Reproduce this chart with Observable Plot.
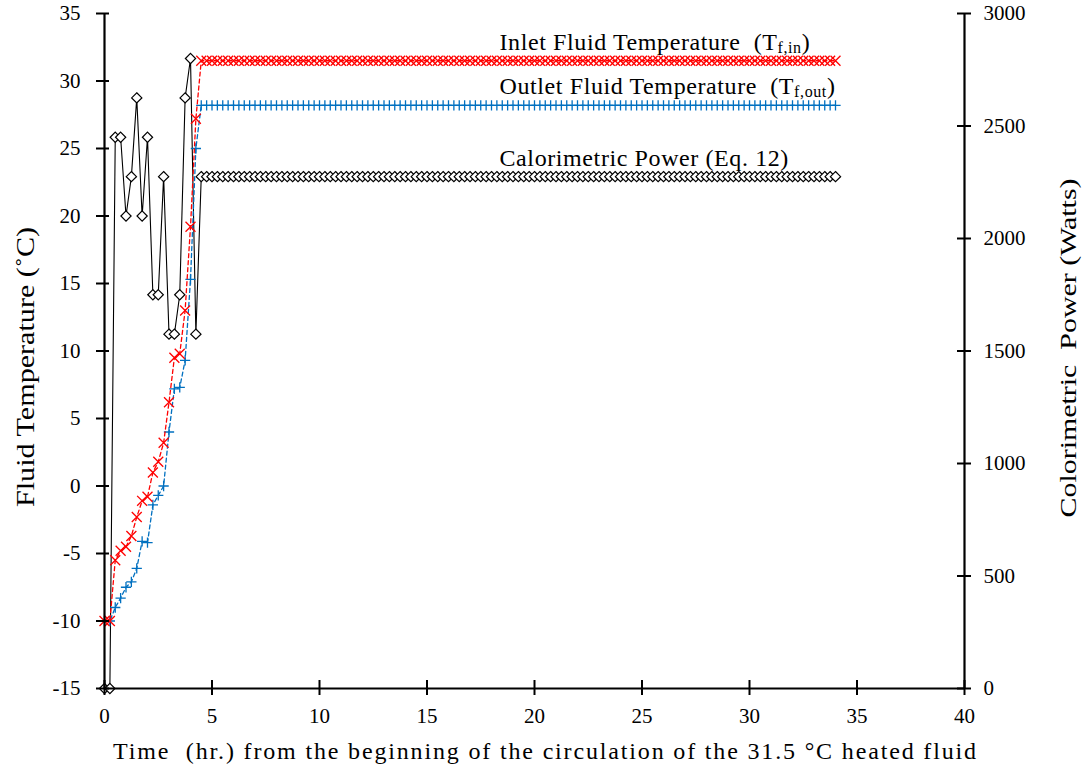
<!DOCTYPE html>
<html>
<head>
<meta charset="utf-8">
<script src="https://cdn.jsdelivr.net/npm/d3@7"></script>
<script src="https://cdn.jsdelivr.net/npm/@observablehq/plot@0.6"></script>
<style>
  html, body { margin: 0; padding: 0; background: #fff; }
  #chart svg { display: block; }
</style>
</head>
<body>
<div id="chart"></div>
<script>
// ---- Data ----
const timeHr = [
  0, 0.25, 0.5, 0.75,
  1, 1.25, 1.5, 1.75,
  2, 2.25, 2.5, 2.75,
  3, 3.25, 3.5, 3.75,
  4, 4.25, 4.5, 4.75,
  5, 5.25, 5.5, 5.75,
  6, 6.25, 6.5, 6.75,
  7, 7.25, 7.5, 7.75,
  8, 8.25, 8.5, 8.75,
  9, 9.25, 9.5, 9.75,
  10, 10.25, 10.5, 10.75,
  11, 11.25, 11.5, 11.75,
  12, 12.25, 12.5, 12.75,
  13, 13.25, 13.5, 13.75,
  14, 14.25, 14.5, 14.75,
  15, 15.25, 15.5, 15.75,
  16, 16.25, 16.5, 16.75,
  17, 17.25, 17.5, 17.75,
  18, 18.25, 18.5, 18.75,
  19, 19.25, 19.5, 19.75,
  20, 20.25, 20.5, 20.75,
  21, 21.25, 21.5, 21.75,
  22, 22.25, 22.5, 22.75,
  23, 23.25, 23.5, 23.75,
  24, 24.25, 24.5, 24.75,
  25, 25.25, 25.5, 25.75,
  26, 26.25, 26.5, 26.75,
  27, 27.25, 27.5, 27.75,
  28, 28.25, 28.5, 28.75,
  29, 29.25, 29.5, 29.75,
  30, 30.25, 30.5, 30.75,
  31, 31.25, 31.5, 31.75,
  32, 32.25, 32.5, 32.75,
  33, 33.25, 33.5, 33.75,
  34
];

const inletTemp = [
  -10, -10, -5.5, -4.8,
  -4.5, -3.7, -2.3, -1.1,
  -0.8, 1.0, 1.8, 3.2,
  6.2, 9.5, 9.8, 13.0,
  19.2, 27.2, 31.5, 31.5,
  31.5, 31.5, 31.5, 31.5,
  31.5, 31.5, 31.5, 31.5,
  31.5, 31.5, 31.5, 31.5,
  31.5, 31.5, 31.5, 31.5,
  31.5, 31.5, 31.5, 31.5,
  31.5, 31.5, 31.5, 31.5,
  31.5, 31.5, 31.5, 31.5,
  31.5, 31.5, 31.5, 31.5,
  31.5, 31.5, 31.5, 31.5,
  31.5, 31.5, 31.5, 31.5,
  31.5, 31.5, 31.5, 31.5,
  31.5, 31.5, 31.5, 31.5,
  31.5, 31.5, 31.5, 31.5,
  31.5, 31.5, 31.5, 31.5,
  31.5, 31.5, 31.5, 31.5,
  31.5, 31.5, 31.5, 31.5,
  31.5, 31.5, 31.5, 31.5,
  31.5, 31.5, 31.5, 31.5,
  31.5, 31.5, 31.5, 31.5,
  31.5, 31.5, 31.5, 31.5,
  31.5, 31.5, 31.5, 31.5,
  31.5, 31.5, 31.5, 31.5,
  31.5, 31.5, 31.5, 31.5,
  31.5, 31.5, 31.5, 31.5,
  31.5, 31.5, 31.5, 31.5,
  31.5, 31.5, 31.5, 31.5,
  31.5, 31.5, 31.5, 31.5,
  31.5, 31.5, 31.5, 31.5,
  31.5, 31.5, 31.5, 31.5,
  31.5
];

const outletTemp = [
  -10, -10, -9.0, -8.3,
  -7.5, -7.1, -6.1, -4.1,
  -4.2, -1.4, -0.7, 0.0,
  4.0, 7.2, 7.3, 9.3,
  15.3, 25.0, 28.2, 28.2,
  28.2, 28.2, 28.2, 28.2,
  28.2, 28.2, 28.2, 28.2,
  28.2, 28.2, 28.2, 28.2,
  28.2, 28.2, 28.2, 28.2,
  28.2, 28.2, 28.2, 28.2,
  28.2, 28.2, 28.2, 28.2,
  28.2, 28.2, 28.2, 28.2,
  28.2, 28.2, 28.2, 28.2,
  28.2, 28.2, 28.2, 28.2,
  28.2, 28.2, 28.2, 28.2,
  28.2, 28.2, 28.2, 28.2,
  28.2, 28.2, 28.2, 28.2,
  28.2, 28.2, 28.2, 28.2,
  28.2, 28.2, 28.2, 28.2,
  28.2, 28.2, 28.2, 28.2,
  28.2, 28.2, 28.2, 28.2,
  28.2, 28.2, 28.2, 28.2,
  28.2, 28.2, 28.2, 28.2,
  28.2, 28.2, 28.2, 28.2,
  28.2, 28.2, 28.2, 28.2,
  28.2, 28.2, 28.2, 28.2,
  28.2, 28.2, 28.2, 28.2,
  28.2, 28.2, 28.2, 28.2,
  28.2, 28.2, 28.2, 28.2,
  28.2, 28.2, 28.2, 28.2,
  28.2, 28.2, 28.2, 28.2,
  28.2, 28.2, 28.2, 28.2,
  28.2, 28.2, 28.2, 28.2,
  28.2, 28.2, 28.2, 28.2,
  28.2
];

const powerWatts = [
  0, 0, 2450, 2450,
  2100, 2275, 2625, 2100,
  2450, 1750, 1750, 2275,
  1575, 1575, 1750, 2625,
  2800, 1575, 2275, 2275,
  2275, 2275, 2275, 2275,
  2275, 2275, 2275, 2275,
  2275, 2275, 2275, 2275,
  2275, 2275, 2275, 2275,
  2275, 2275, 2275, 2275,
  2275, 2275, 2275, 2275,
  2275, 2275, 2275, 2275,
  2275, 2275, 2275, 2275,
  2275, 2275, 2275, 2275,
  2275, 2275, 2275, 2275,
  2275, 2275, 2275, 2275,
  2275, 2275, 2275, 2275,
  2275, 2275, 2275, 2275,
  2275, 2275, 2275, 2275,
  2275, 2275, 2275, 2275,
  2275, 2275, 2275, 2275,
  2275, 2275, 2275, 2275,
  2275, 2275, 2275, 2275,
  2275, 2275, 2275, 2275,
  2275, 2275, 2275, 2275,
  2275, 2275, 2275, 2275,
  2275, 2275, 2275, 2275,
  2275, 2275, 2275, 2275,
  2275, 2275, 2275, 2275,
  2275, 2275, 2275, 2275,
  2275, 2275, 2275, 2275,
  2275, 2275, 2275, 2275,
  2275, 2275, 2275, 2275,
  2275, 2275, 2275, 2275,
  2275
];

const xTicks = [0, 5, 10, 15, 20, 25, 30, 35, 40];
const tempTicks = [-15, -10, -5, 0, 5, 10, 15, 20, 25, 30, 35];
const powerTicks = [0, 500, 1000, 1500, 2000, 2500, 3000];

const xTitle = "Time  (hr.) from the beginning of the circulation of the 31.5 °C heated fluid";
const yLeftTitle = "Fluid Temperature (˚C)";
const yRightTitle = "Colorimetric  Power (Watts)";
const seriesLabels = [
  "Inlet Fluid Temperature  (T_{f,in})",
  "Outlet Fluid Temperature  (T_{f,out})",
  "Calorimetric Power (Eq. 12)"
];

// ---- Build ----
const xDomain = [xTicks[0], xTicks[xTicks.length - 1]];
const tDomain = [tempTicks[0], tempTicks[tempTicks.length - 1]];
const pDomain = [powerTicks[0], powerTicks[powerTicks.length - 1]];
// map power (right axis) onto the temperature (left axis) scale
const p2t = p => tDomain[0] + (p - pDomain[0]) / (pDomain[1] - pDomain[0]) * (tDomain[1] - tDomain[0]);
const t2p = t => pDomain[0] + (t - tDomain[0]) / (tDomain[1] - tDomain[0]) * (pDomain[1] - pDomain[0]);

const rows = timeHr.map((t, i) => ({t, inlet: inletTemp[i], outlet: outletTemp[i], power: powerWatts[i]}));
const labelRows = [
  {text: seriesLabels[0], y: inletTemp[inletTemp.length - 1]},
  {text: seriesLabels[1], y: outletTemp[outletTemp.length - 1]},
  {text: seriesLabels[2], y: p2t(powerWatts[powerWatts.length - 1])}
];

const RED = "#FF0000", BLUE = "#0070C0";
const FONT = "'Liberation Serif', 'Times New Roman', serif";

const chart = Plot.plot({
  width: 1090,
  height: 776,
  marginLeft: 104,
  marginRight: 126,
  marginTop: 13,
  marginBottom: 88,
  style: {fontFamily: FONT, fontSize: "21px", color: "#000", background: "#fff"},
  x: {domain: xDomain, axis: null},
  y: {domain: tDomain, axis: null},
  marks: [
    // calorimetric power (right axis)
    Plot.line(rows, {x: "t", y: d => p2t(d.power), stroke: "#000", strokeWidth: 1.1}),
    Plot.dot(rows, {x: "t", y: d => p2t(d.power), symbol: "diamond2", r: 4.6, stroke: "#000", fill: "#fff", strokeWidth: 1.2}),
    // outlet
    Plot.line(rows, {x: "t", y: "outlet", stroke: BLUE, strokeWidth: 1.3, strokeDasharray: "4,3"}),
    Plot.dot(rows, {x: "t", y: "outlet", symbol: "plus", r: 3.4, stroke: BLUE, strokeWidth: 1.3}),
    // inlet
    Plot.line(rows, {x: "t", y: "inlet", stroke: RED, strokeWidth: 1.3, strokeDasharray: "4,3"}),
    Plot.dot(rows, {x: "t", y: "inlet", symbol: "times", r: 4.6, stroke: RED, strokeWidth: 1.3}),
    // axis lines
    Plot.ruleX([xDomain[0]], {stroke: "#000", strokeWidth: 2.2}),
    Plot.ruleX([xDomain[1]], {stroke: "#000", strokeWidth: 2.2}),
    Plot.ruleY([tDomain[0]], {stroke: "#000", strokeWidth: 2.2}),
    // axes
    Plot.axisX(xTicks, {anchor: "bottom", tickSize: 15, dy: -8, tickPadding: 13, strokeWidth: 2, label: null, fontSize: 21}),
    Plot.axisY(tempTicks, {anchor: "left", tickSize: 13, dx: 5, tickPadding: 16, strokeWidth: 2, label: null, fontSize: 21,
      tickFormat: d => String(d)}),
    Plot.axisY(powerTicks.map(p2t), {anchor: "right", tickSize: 14, dx: -8, tickPadding: 13, strokeWidth: 2, label: null, fontSize: 21,
      tickFormat: d => String(Math.round(t2p(d)))}),
    // titles
    Plot.text([xTitle], {text: d => d, frameAnchor: "bottom", textAnchor: "middle", dx: 10, dy: 70, lineAnchor: "bottom", fontSize: 24, className: "xtitle"}),
    Plot.text([yLeftTitle], {text: d => d, frameAnchor: "left", textAnchor: "middle", lineAnchor: "middle", rotate: -90, dx: -79, dy: 16, fontSize: 26, className: "ltitle"}),
    Plot.text([yRightTitle], {text: d => d, frameAnchor: "right", textAnchor: "middle", lineAnchor: "middle", rotate: -90, dx: 104, dy: -3, fontSize: 24, className: "rtitle"}),
    // series annotations
    Plot.text(labelRows, {text: "text", y: "y", frameAnchor: "left", dx: 395, dy: -11, textAnchor: "start", lineAnchor: "bottom", fontSize: 24, className: "slabel"})
  ]
});

// stretch titles to the reference lengths
d3.select(chart).selectAll(".xtitle text").attr("textLength", 863).attr("lengthAdjust", "spacing");
d3.select(chart).selectAll(".ltitle text").attr("textLength", 280).attr("lengthAdjust", "spacingAndGlyphs");
d3.select(chart).selectAll(".rtitle text").attr("textLength", 339).attr("lengthAdjust", "spacingAndGlyphs");
d3.select(chart).selectAll(".slabel text").style("letter-spacing", "0.6px");

// subscripts and preserved spacing
d3.select(chart).selectAll("text").each(function () {
  const s = this.textContent;
  if (!s || (!s.includes("  ") && !s.includes("_{"))) return;
  const el = d3.select(this);
  el.style("white-space", "pre");
  if (!s.includes("_{")) return;
  el.text(null);
  let lowered = false;
  for (const p of s.split(/(_\{[^}]*\})/)) {
    if (!p) continue;
    const m = p.match(/^_\{([^}]*)\}$/);
    if (m) {
      el.append("tspan").attr("dy", 3).attr("font-size", 16).text(m[1]);
      lowered = true;
    } else {
      const ts = el.append("tspan").text(p);
      if (lowered) { ts.attr("dy", -3); lowered = false; }
    }
  }
});

document.getElementById("chart").appendChild(chart);
</script>
</body>
</html>
